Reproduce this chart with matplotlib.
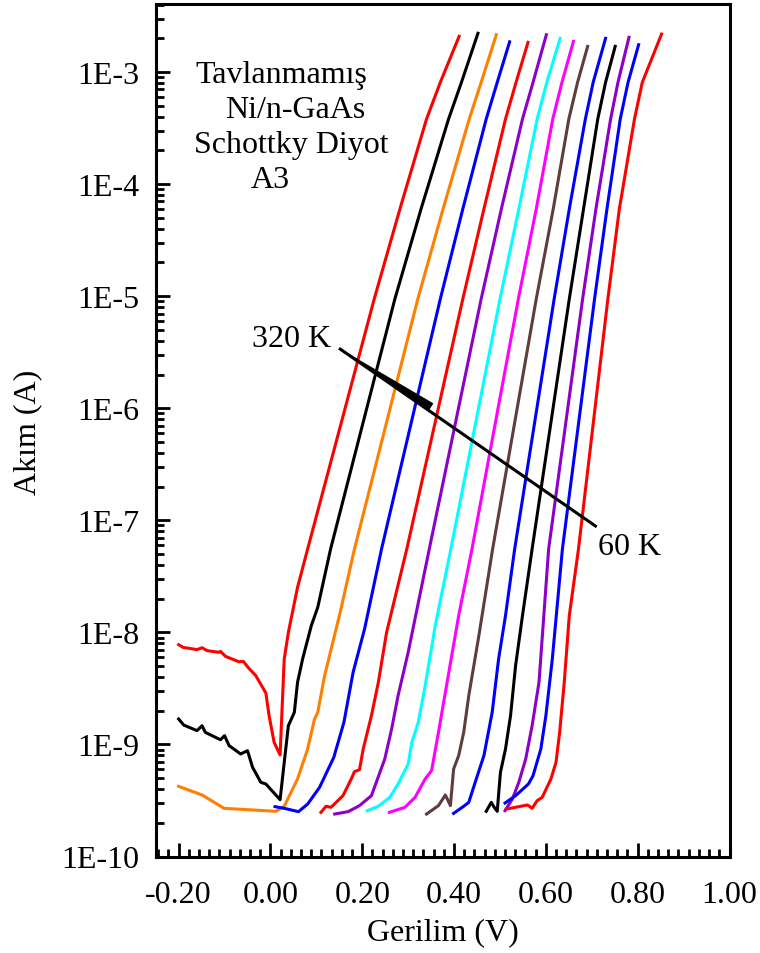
import matplotlib
matplotlib.use('Agg')
import matplotlib.pyplot as plt
from matplotlib.ticker import FixedLocator, FuncFormatter, LogLocator, MultipleLocator, NullFormatter
import numpy as np

plt.rcParams['font.family'] = ['Liberation Serif', 'DejaVu Serif']

# Okunan veriler: gerilim (V) ve log10(akim / A), her sicaklik icin
V_320 = [-0.200, -0.190, -0.160, -0.149, -0.138, -0.112, -0.109, -0.098, -0.069, -0.059, -0.047, -0.032,
         -0.010, -0.003, 0.008, 0.021, 0.030, 0.039, 0.059, 0.081, 0.226, 0.282, 0.340, 0.370, 0.411]
logI_320 = [-8.110, -8.134, -8.154, -8.137, -8.163, -8.178, -8.169, -8.214, -8.262, -8.259, -8.321, -8.386,
            -8.541, -8.743, -8.981, -9.094, -8.238, -8.000, -7.598, -7.256, -5.025, -4.222, -3.419, -3.092,
            -2.681]

V_300 = [-0.200, -0.189, -0.160, -0.149, -0.142, -0.109, -0.100, -0.090, -0.065, -0.050, -0.039, -0.021,
         -0.010, 0.021, 0.030, 0.039, 0.052, 0.059, 0.070, 0.089, 0.103, 0.131, 0.271, 0.328, 0.388, 0.416,
         0.452]
logI_300 = [-8.773, -8.827, -8.877, -8.833, -8.892, -8.958, -8.922, -9.011, -9.085, -9.056, -9.204, -9.338,
            -9.353, -9.493, -9.160, -8.833, -8.714, -8.446, -8.238, -7.940, -7.777, -7.256, -5.025, -4.222,
            -3.419, -3.092, -2.654]

V_280 = [-0.200, -0.149, -0.101, 0.012, 0.030, 0.059, 0.081, 0.096, 0.103, 0.118, 0.151, 0.183,
         0.321, 0.376, 0.433, 0.459, 0.492]
logI_280 = [-9.374, -9.451, -9.570, -9.597, -9.552, -9.308, -9.041, -8.773, -8.714, -8.386, -7.836, -7.256,
            -5.025, -4.222, -3.419, -3.092, -2.667]

V_260 = [0.010, 0.030, 0.061, 0.081, 0.107, 0.138, 0.160, 0.180, 0.205, 0.242, 0.370, 0.419, 0.470, 0.494,
         0.521]
logI_260 = [-9.555, -9.570, -9.600, -9.532, -9.383, -9.115, -8.803, -8.357, -7.970, -7.256, -5.025, -4.222,
            -3.419, -3.092, -2.730]

V_240 = [0.110, 0.121, 0.132, 0.158, 0.176, 0.183, 0.194, 0.202, 0.220, 0.235, 0.253, 0.297,
         0.419, 0.465, 0.512, 0.535, 0.561]
logI_240 = [-9.606, -9.552, -9.561, -9.457, -9.308, -9.243, -9.225, -9.041, -8.743, -8.446, -8.000, -7.256,
            -5.025, -4.222, -3.419, -3.092, -2.735]

V_220 = [0.140, 0.169, 0.194, 0.220, 0.249, 0.264, 0.278, 0.300, 0.346, 0.459, 0.503, 0.549, 0.572, 0.601]
logI_220 = [-9.621, -9.600, -9.546, -9.457, -9.130, -8.862, -8.565, -8.178, -7.256, -5.025, -4.222, -3.419,
            -3.092, -2.667]

V_200 = [0.211, 0.235, 0.260, 0.278, 0.300, 0.308, 0.322, 0.337, 0.359, 0.393, 0.500, 0.541, 0.581, 0.602,
         0.631]
logI_200 = [-9.591, -9.552, -9.472, -9.353, -9.175, -8.981, -8.803, -8.476, -7.940, -7.256, -5.025, -4.222,
            -3.419, -3.092, -2.699]

V_180 = [0.259, 0.293, 0.315, 0.337, 0.351, 0.366, 0.381, 0.410, 0.439, 0.540, 0.579, 0.615, 0.635, 0.660]
logI_180 = [-9.606, -9.561, -9.472, -9.308, -9.234, -8.892, -8.535, -7.851, -7.256, -5.025, -4.222, -3.419,
            -3.092, -2.726]

V_160 = [0.340, 0.366, 0.381, 0.392, 0.399, 0.410, 0.421, 0.432, 0.454, 0.484, 0.579, 0.616, 0.650, 0.669,
         0.691]
logI_160 = [-9.621, -9.546, -9.451, -9.546, -9.219, -9.100, -8.892, -8.565, -8.030, -7.256, -5.025, -4.222,
            -3.419, -3.092, -2.771]

V_140 = [0.399, 0.421, 0.432, 0.446, 0.465, 0.483, 0.497, 0.512, 0.532, 0.618, 0.651, 0.686, 0.703, 0.730]
logI_140 = [-9.615, -9.552, -9.517, -9.338, -9.100, -8.714, -8.238, -7.851, -7.256, -5.025, -4.222, -3.419,
            -3.092, -2.699]

V_120 = [0.470, 0.481, 0.486, 0.494, 0.501, 0.512, 0.523, 0.534, 0.549, 0.570, 0.651, 0.682, 0.713, 0.730,
         0.751]
logI_120 = [-9.597, -9.517, -9.552, -9.597, -9.249, -9.041, -8.743, -8.297, -7.851, -7.256, -5.025, -4.222,
            -3.419, -3.092, -2.771]

V_100 = [0.511, 0.527, 0.541, 0.556, 0.570, 0.585, 0.606, 0.680, 0.709, 0.741, 0.757, 0.781]
logI_100 = [-9.591, -9.487, -9.338, -9.130, -8.833, -8.446, -7.256, -5.025, -4.222, -3.419, -3.092, -2.690]

V_80 = [0.511, 0.534, 0.562, 0.572, 0.589, 0.600, 0.614, 0.636, 0.706, 0.733, 0.762, 0.779, 0.802]
logI_80 = [-9.523, -9.457, -9.353, -9.279, -9.041, -8.743, -8.238, -7.256, -5.025, -4.222, -3.419, -3.092,
           -2.756]

V_60 = [0.514, 0.534, 0.560, 0.570, 0.581, 0.592, 0.611, 0.622, 0.630, 0.640, 0.651, 0.671,
        0.735, 0.760, 0.793, 0.810, 0.852]
logI_60 = [-9.576, -9.561, -9.540, -9.570, -9.502, -9.472, -9.308, -9.160, -8.892, -8.446, -7.851, -7.256,
           -5.025, -4.222, -3.419, -3.092, -2.661]

curves = [
    (V_320, logI_320, '#FF0000'),
    (V_300, logI_300, '#000000'),
    (V_280, logI_280, '#FF7F00'),
    (V_260, logI_260, '#0000FF'),
    (V_240, logI_240, '#FF0000'),
    (V_220, logI_220, '#8C00C8'),
    (V_200, logI_200, '#00FFFF'),
    (V_180, logI_180, '#FF00FF'),
    (V_160, logI_160, '#603C3C'),
    (V_140, logI_140, '#0000FF'),
    (V_120, logI_120, '#000000'),
    (V_100, logI_100, '#8C00C8'),
    (V_80, logI_80, '#0000FF'),
    (V_60, logI_60, '#FF0000'),
]

# ok: 320 K -> 60 K
arrow_head = (0.152, 10 ** -5.472)
arrow_tail = (0.349, 10 ** -5.989)
arrow_end = (0.708, 10 ** -7.051)

fig = plt.figure(figsize=(7.6, 9.54), dpi=100)
ax = fig.add_axes([155.7 / 760, 1 - 857.5 / 954, (729.5 - 155.7) / 760, (857.5 - 5) / 954])

for v, li, c in curves:
    ax.plot(v, 10 ** np.array(li), color=c, lw=2.2, solid_joinstyle='round')

ax.set_yscale('log')
ax.set_xlim(-0.25, 1.0)
ax.set_ylim(1e-10, 4.05e-3)

ax.xaxis.set_major_locator(MultipleLocator(0.2))
ax.xaxis.set_minor_locator(MultipleLocator(0.2 / 9))
ax.xaxis.set_major_formatter(FuncFormatter(lambda x, p: f'{x:.2f}'))
ax.yaxis.set_major_locator(FixedLocator([10.0 ** k for k in range(-10, -2)]))
ax.yaxis.set_minor_locator(LogLocator(base=10, subs=np.arange(2, 10)))
ax.yaxis.set_minor_formatter(NullFormatter())
ax.yaxis.set_major_formatter(FuncFormatter(lambda y, p: f'1E{int(round(np.log10(y)))}'))

ax.tick_params(which='both', direction='in', top=False, right=False, width=2.0, labelsize=23)
ax.tick_params(which='major', length=10)
ax.tick_params(which='minor', length=5.5)
ax.tick_params(axis='x', which='major', pad=17)
ax.tick_params(axis='y', which='major', pad=12)
for s in ax.spines.values():
    s.set_linewidth(2.2)

fig.text(443 / 760, 1 - 940 / 954, 'Gerilim (V)', fontsize=23, ha='center', va='baseline')
fig.text(28 / 760, 1 - 432 / 954, 'Akım (A)', fontsize=23, ha='center', va='center', rotation=90)

# kutu yazisi
for txt, px, py in [('Tavlanmamış', 195, 82.7), ('Ni/n-GaAs', 225, 118.3),
                    ('Schottky Diyot', 194, 153.3), ('A3', 251, 188.3)]:
    fig.text(px / 760, 1 - py / 954, txt, fontsize=23, ha='left', va='baseline')

fig.text(252 / 760, 1 - 346.7 / 954, '320 K', fontsize=23, ha='left', va='baseline')
fig.text(598 / 760, 1 - 555 / 954, '60 K', fontsize=23, ha='left', va='baseline')

ax.plot([arrow_head[0], arrow_end[0]], [arrow_head[1], arrow_end[1]], color='k', lw=2.2)
ax.annotate('', xy=arrow_head, xytext=arrow_tail,
            arrowprops=dict(arrowstyle='wedge,tail_width=0.6,shrink_factor=0.5', fc='k', ec='k',
                            lw=0.5, shrinkA=0, shrinkB=0, mutation_scale=10))

fig.savefig('out.png', dpi=100, facecolor='white')
